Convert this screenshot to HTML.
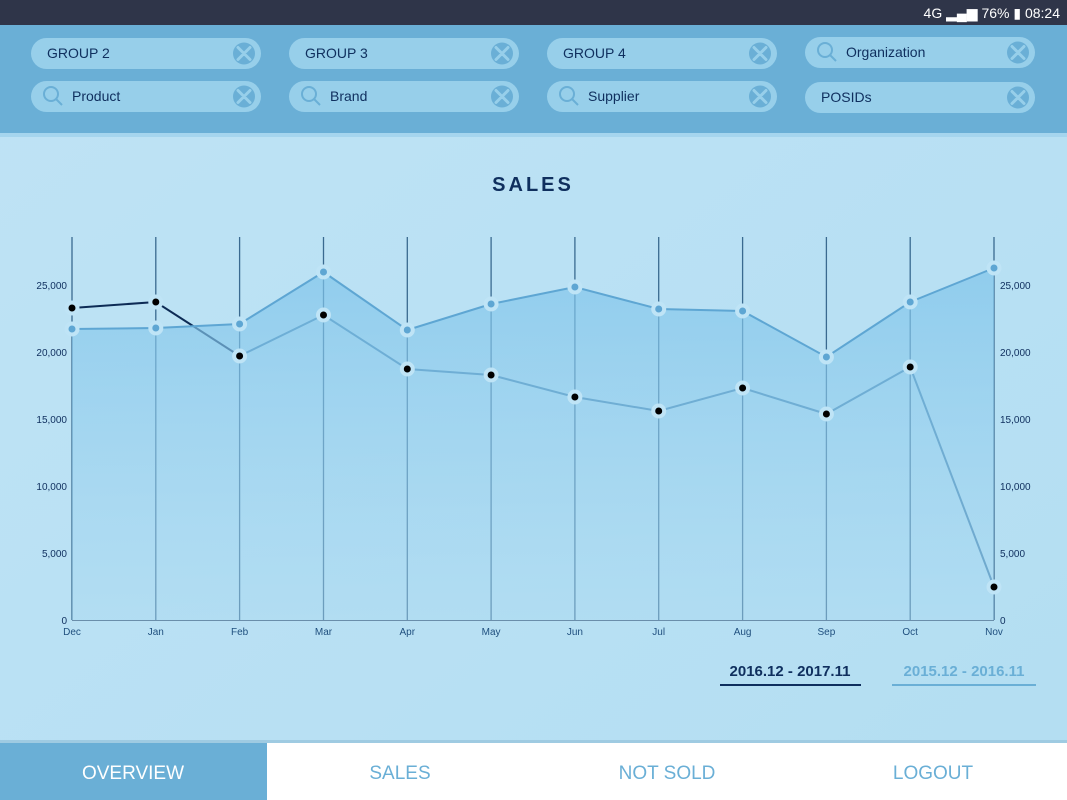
<!DOCTYPE html>
<html><head><meta charset="utf-8"><style>
html,body{margin:0;padding:0;width:1067px;height:800px;overflow:hidden;font-family:"Liberation Sans",sans-serif}
</style></head><body>
<svg width="1067" height="800" xmlns="http://www.w3.org/2000/svg" font-family="Liberation Sans, sans-serif">
<defs>
<linearGradient id="bg" x1="0" y1="0" x2="1" y2="1"><stop offset="0" stop-color="#bfe3f5"/><stop offset="1" stop-color="#b3def2"/></linearGradient>
<linearGradient id="ar" x1="0" y1="0" x2="0" y2="1"><stop offset="0" stop-color="#7fc4ea" stop-opacity="0.7"/><stop offset="1" stop-color="#a9d9f1" stop-opacity="0.45"/></linearGradient>
</defs>
<rect width="1067" height="800" fill="url(#bg)"/>
<rect width="1067" height="25" fill="#2f3549"/>
<text x="1060" y="18" fill="#fff" font-size="14" text-anchor="end">4G ▂▄▆ 76% ▮ 08:24</text>
<rect y="25" width="1067" height="108" fill="#6aafd6"/>
<rect y="133" width="1067" height="4" fill="#a5d5ee"/>
<g fill="#97cfea">
<rect x="31" y="38" width="230" height="31" rx="15.5"/><rect x="289" y="38" width="230" height="31" rx="15.5"/><rect x="547" y="38" width="230" height="31" rx="15.5"/><rect x="805" y="37" width="230" height="31" rx="15.5"/>
<rect x="31" y="81" width="230" height="31" rx="15.5"/><rect x="289" y="81" width="230" height="31" rx="15.5"/><rect x="547" y="81" width="230" height="31" rx="15.5"/><rect x="805" y="82" width="230" height="31" rx="15.5"/>
</g>
<g fill="#6aafd6">
<circle cx="244" cy="53.5" r="11"/><circle cx="502" cy="53.5" r="11"/><circle cx="760" cy="53.5" r="11"/><circle cx="1018" cy="52.5" r="11"/>
<circle cx="244" cy="96.5" r="11"/><circle cx="502" cy="96.5" r="11"/><circle cx="760" cy="96.5" r="11"/><circle cx="1018" cy="97.5" r="11"/>
</g>
<g stroke="#97cfea" stroke-width="3" stroke-linecap="round">
<path d="M238 47.5l12 12M250 47.5l-12 12M496 47.5l12 12M508 47.5l-12 12M754 47.5l12 12M766 47.5l-12 12M1012 46.5l12 12M1024 46.5l-12 12"/>
<path d="M238 90.5l12 12M250 90.5l-12 12M496 90.5l12 12M508 90.5l-12 12M754 90.5l12 12M766 90.5l-12 12M1012 91.5l12 12M1024 91.5l-12 12"/>
</g>
<g fill="none" stroke="#6aafd6" stroke-width="2">
<circle cx="51" cy="94" r="7"/><path d="M56 99l6 6"/>
<circle cx="309" cy="94" r="7"/><path d="M314 99l6 6"/>
<circle cx="567" cy="94" r="7"/><path d="M572 99l6 6"/>
<circle cx="825" cy="50" r="7"/><path d="M830 55l6 6"/>
</g>
<g fill="#0f2f5e" font-size="14">
<text x="47" y="58">GROUP 2</text><text x="305" y="58">GROUP 3</text><text x="563" y="58">GROUP 4</text><text x="846" y="57">Organization</text>
<text x="72" y="101">Product</text><text x="330" y="101">Brand</text><text x="588" y="101">Supplier</text><text x="821" y="102">POSIDs</text>
</g>
<text x="533" y="191" text-anchor="middle" font-size="20" font-weight="bold" fill="#0f2f5e" letter-spacing="3">SALES</text>
<g stroke="#3a6a90" stroke-width="1.3">
<path d="M72 237V620M155.8 237V620M239.6 237V620M323.5 237V620M407.3 237V620M491.1 237V620M574.9 237V620M658.7 237V620M742.6 237V620M826.4 237V620M910.2 237V620M994 237V620"/>
</g>
<line x1="72" y1="620.5" x2="994" y2="620.5" stroke="#6a8eaa" stroke-width="1"/>
<polyline fill="none" stroke="#0d2b55" stroke-width="2" points="72,308 155.8,302 239.6,356"/>
<polyline fill="none" stroke="#3f7fae" stroke-width="2" points="239.6,356 323.5,315 407.3,369 491.1,375 574.9,397 658.7,411 742.6,388 826.4,414 910.2,367 994,587"/>
<polygon fill="url(#ar)" points="72,620 72,329 155.8,328 239.6,324 323.5,272 407.3,330 491.1,304 574.9,287 658.7,309 742.6,311 826.4,357 910.2,302 994,268 994,620"/>
<polyline fill="none" stroke="#5ea6d3" stroke-width="2" points="72,329 155.8,328 239.6,324 323.5,272 407.3,330 491.1,304 574.9,287 658.7,309 742.6,311 826.4,357 910.2,302 994,268"/>
<g fill="#5ea6d3" stroke="#bfe4f6" stroke-width="4">
<circle cx="72" cy="329" r="5.5"/><circle cx="155.8" cy="328" r="5.5"/><circle cx="239.6" cy="324" r="5.5"/><circle cx="323.5" cy="272" r="5.5"/><circle cx="407.3" cy="330" r="5.5"/><circle cx="491.1" cy="304" r="5.5"/><circle cx="574.9" cy="287" r="5.5"/><circle cx="658.7" cy="309" r="5.5"/><circle cx="742.6" cy="311" r="5.5"/><circle cx="826.4" cy="357" r="5.5"/><circle cx="910.2" cy="302" r="5.5"/><circle cx="994" cy="268" r="5.5"/>
</g>
<g fill="#000" stroke="#bfe4f6" stroke-width="4">
<circle cx="72" cy="308" r="5.5"/><circle cx="155.8" cy="302" r="5.5"/><circle cx="239.6" cy="356" r="5.5"/><circle cx="323.5" cy="315" r="5.5"/><circle cx="407.3" cy="369" r="5.5"/><circle cx="491.1" cy="375" r="5.5"/><circle cx="574.9" cy="397" r="5.5"/><circle cx="658.7" cy="411" r="5.5"/><circle cx="742.6" cy="388" r="5.5"/><circle cx="826.4" cy="414" r="5.5"/><circle cx="910.2" cy="367" r="5.5"/><circle cx="994" cy="587" r="5.5"/>
</g>
<g fill="#0f2f5e" font-size="10" text-anchor="end">
<text x="67" y="624">0</text><text x="67" y="557">5,000</text><text x="67" y="490">10,000</text><text x="67" y="423">15,000</text><text x="67" y="356">20,000</text><text x="67" y="289">25,000</text>
</g>
<g fill="#0f2f5e" font-size="10">
<text x="1000" y="624">0</text><text x="1000" y="557">5,000</text><text x="1000" y="490">10,000</text><text x="1000" y="423">15,000</text><text x="1000" y="356">20,000</text><text x="1000" y="289">25,000</text>
</g>
<g fill="#1f4f7e" font-size="10" text-anchor="middle">
<text x="72" y="635">Dec</text><text x="155.8" y="635">Jan</text><text x="239.6" y="635">Feb</text><text x="323.5" y="635">Mar</text><text x="407.3" y="635">Apr</text><text x="491.1" y="635">May</text><text x="574.9" y="635">Jun</text><text x="658.7" y="635">Jul</text><text x="742.6" y="635">Aug</text><text x="826.4" y="635">Sep</text><text x="910.2" y="635">Oct</text><text x="994" y="635">Nov</text>
</g>
<text x="790" y="676" text-anchor="middle" font-size="15" font-weight="bold" fill="#0f2f5e">2016.12 - 2017.11</text>
<rect x="720" y="684" width="141" height="2" fill="#0f2f5e"/>
<text x="964" y="676" text-anchor="middle" font-size="15" font-weight="bold" fill="#6aafd6">2015.12 - 2016.11</text>
<rect x="892" y="684" width="144" height="2" fill="#6aafd6"/>
<rect y="740" width="1067" height="3" fill="#9fcbe2"/>
<rect y="743" width="1067" height="57" fill="#fff"/>
<rect y="743" width="267" height="57" fill="#6aafd6"/>
<g font-size="19" text-anchor="middle">
<text x="133" y="779" fill="#fff">OVERVIEW</text>
<text x="400" y="779" fill="#6aafd6">SALES</text>
<text x="667" y="779" fill="#6aafd6">NOT SOLD</text>
<text x="933" y="779" fill="#6aafd6">LOGOUT</text>
</g>
</svg>
</body></html>
